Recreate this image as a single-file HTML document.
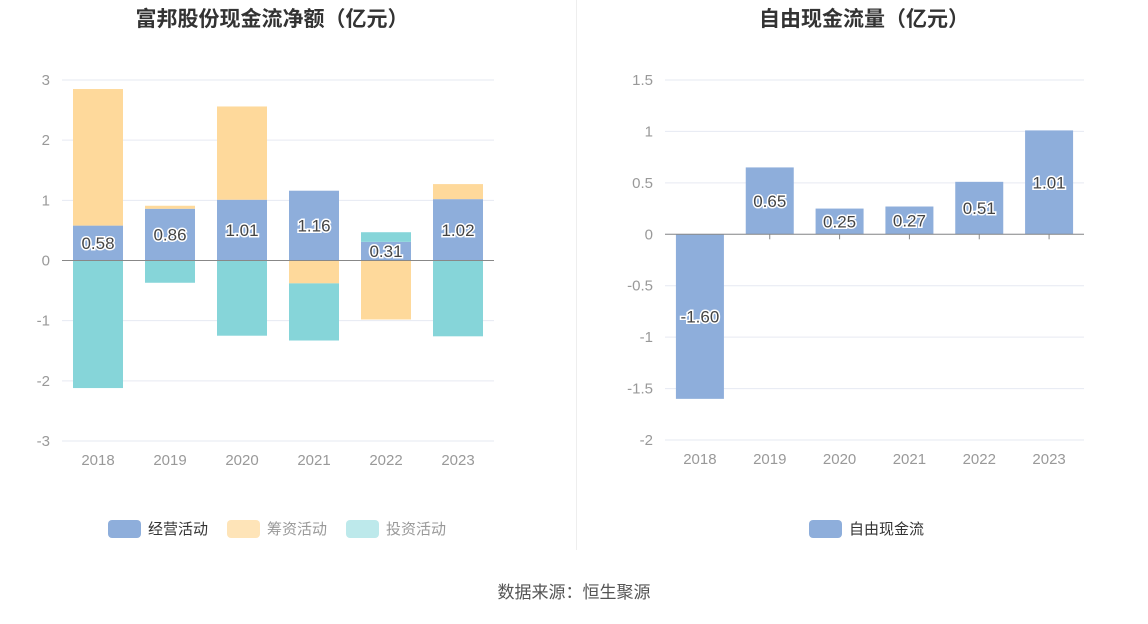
<!DOCTYPE html>
<html><head><meta charset="utf-8"><style>
body{margin:0;background:#fff;}
svg text{font-family:"Liberation Sans","Noto Sans CJK SC",sans-serif;}
</style></head><body>
<svg id="s" width="1148" height="619" xmlns="http://www.w3.org/2000/svg">
<text x="272" y="26" text-anchor="middle" font-size="21" font-weight="bold" fill="#333">富邦股份现金流净额（亿元）</text>
<text x="864" y="26" text-anchor="middle" font-size="21" font-weight="bold" fill="#333">自由现金流量（亿元）</text>
<line x1="576.5" y1="0" x2="576.5" y2="550" stroke="#eee"/>
<g id="L"></g>
<g id="R"></g>
<g>
<rect x="108" y="520" width="33" height="18" rx="4" fill="#8eaedb"/>
<text x="148" y="534" font-size="15" fill="#333">经营活动</text>
<rect x="227" y="520" width="33" height="18" rx="4" fill="#fee4b8"/>
<text x="267" y="534" font-size="15" fill="#999">筹资活动</text>
<rect x="346" y="520" width="33" height="18" rx="4" fill="#bde9eb"/>
<text x="386" y="534" font-size="15" fill="#999">投资活动</text>
</g>
<g>
<rect x="809" y="520" width="33" height="18" rx="4" fill="#8eaedb"/>
<text x="849" y="534" font-size="15" fill="#333">自由现金流</text>
</g>
<text x="574" y="598" text-anchor="middle" font-size="17" fill="#555">数据来源：恒生聚源</text>
</svg>
<script>
const years=["2018","2019","2020","2021","2022","2023"];
const operating=[0.58,0.86,1.01,1.16,0.31,1.02];
const financing=[2.27,0.05,1.55,-0.38,-0.98,0.25];
const investing=[-2.12,-0.37,-1.25,-0.95,0.16,-1.26];
const leftTicks=[3,2,1,0,-1,-2,-3];
const fcf=[-1.60,0.65,0.25,0.27,0.51,1.01];
const rightTicks=["1.5","1","0.5","0","-0.5","-1","-1.5","-2"];
const NS="http://www.w3.org/2000/svg";
function mk(p,t,a){const e=document.createElementNS(NS,t);for(const k in a)e.setAttribute(k,a[k]);p.appendChild(e);return e;}
function chart(g,x0,x1,ymax,ymin,yTop,yBot,ticks){
  const ys=v=>yTop+(ymax-v)/(ymax-ymin)*(yBot-yTop);
  const step=(x1-x0)/years.length;const xs=i=>x0+step*(i+0.5);
  ticks.forEach(t=>{const v=parseFloat(t);
    const l=mk(g,'line',{x1:x0,x2:x1,y1:ys(v),y2:ys(v),stroke:'#e6e9f2'});
    
    const tx=mk(g,'text',{x:x0-12,y:ys(v)+5,'text-anchor':'end','font-size':15,fill:'#999'});tx.textContent=t;
    });
  years.forEach((y,i)=>{const tx=mk(g,'text',{x:xs(i),y:yBot+24,'text-anchor':'middle','font-size':15,fill:'#999'});tx.textContent=y;
    });
  return {ys,xs};
}
const L=document.getElementById('L');
const a=chart(L,62,494,3,-3,80,441,leftTicks);
const bw=50;
years.forEach((y,i)=>{let pos=0,neg=0;
  [[operating,'#8eaedb','bar-operating'],[financing,'#fed99b','bar-financing'],[investing,'#86d5d9','bar-investing']].forEach(([arr,c,n])=>{
    const v=arr[i];let b,t;if(v>=0){b=pos;t=pos+v;pos=t;}else{t=neg;b=neg+v;neg=b;}
    const r=mk(L,'rect',{x:a.xs(i)-bw/2,y:a.ys(t),width:bw,height:a.ys(b)-a.ys(t),fill:c});
    
  });});
mk(L,'line',{x1:62,x2:494,y1:a.ys(0),y2:a.ys(0),stroke:'#888'});
years.forEach((y,i)=>{const v=operating[i];
  const tx=mk(L,'text',{x:a.xs(i),y:a.ys(v/2)+6,'text-anchor':'middle','font-size':17,fill:'#444',stroke:'#fff','stroke-width':3,'paint-order':'stroke'});
  tx.textContent=v.toFixed(2);});
const R=document.getElementById('R');
const b=chart(R,665,1084,1.5,-2,80,440,rightTicks);
years.forEach((y,i)=>{const tk=mk(R,'line',{x1:b.xs(i),x2:b.xs(i),y1:b.ys(0),y2:b.ys(0)+5,stroke:'#888'});
  });
years.forEach((y,i)=>{const v=fcf[i];const t=Math.max(v,0),bo=Math.min(v,0);
  const r=mk(R,'rect',{x:b.xs(i)-24,y:b.ys(t),width:48,height:b.ys(bo)-b.ys(t),fill:'#8eaedb'});
  });
mk(R,'line',{x1:665,x2:1084,y1:b.ys(0),y2:b.ys(0),stroke:'#888'});
years.forEach((y,i)=>{
  const v=fcf[i];const tx=mk(R,'text',{x:b.xs(i),y:b.ys(v/2)+6,'text-anchor':'middle','font-size':17,fill:'#444',stroke:'#fff','stroke-width':3,'paint-order':'stroke'});
  tx.textContent=v.toFixed(2);});
</script>
</body></html>
